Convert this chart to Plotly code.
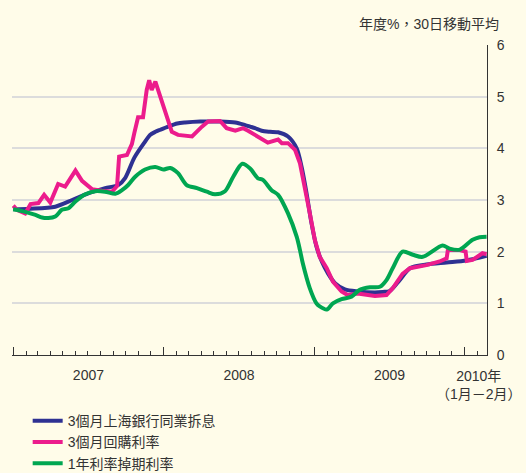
import plotly.graph_objects as go

# ---- data ----
shibor_dates = ["2007-01-01", "2007-02-11", "2007-04-13", "2007-05-24", "2007-07-02", "2007-08-12",
                "2007-09-13", "2007-09-30", "2007-10-22", "2007-11-17", "2007-11-29", "2007-12-12",
                "2007-12-24", "2008-01-12", "2008-02-03", "2008-02-22", "2008-03-30", "2008-04-18",
                "2008-05-17", "2008-06-23", "2008-07-17", "2008-07-29", "2008-08-10", "2008-08-26",
                "2008-09-15", "2008-10-05", "2008-10-29", "2008-11-19", "2008-12-01", "2008-12-13",
                "2008-12-25", "2009-01-06", "2009-01-19", "2009-02-03", "2009-02-20", "2009-03-16",
                "2009-04-16", "2009-05-28", "2009-06-16", "2009-07-03", "2009-07-27", "2009-08-21",
                "2009-09-30", "2009-11-18", "2010-01-05", "2010-02-23"]
shibor_values = [2.82, 2.83, 2.87, 3.00, 3.13, 3.23,
                 3.29, 3.43, 3.82, 4.13, 4.26, 4.32,
                 4.36, 4.42, 4.48, 4.50, 4.52, 4.52,
                 4.52, 4.50, 4.45, 4.42, 4.39, 4.34,
                 4.32, 4.31, 4.23, 4.00, 3.64, 3.13,
                 2.55, 2.10, 1.81, 1.58, 1.39, 1.27,
                 1.23, 1.21, 1.22, 1.24, 1.45, 1.68,
                 1.75, 1.79, 1.83, 1.92]

repo_dates = ["2007-01-01", "2007-01-10", "2007-01-30", "2007-02-12", "2007-03-03", "2007-03-17",
              "2007-04-01", "2007-04-20", "2007-05-07", "2007-06-01", "2007-06-17", "2007-07-11",
              "2007-08-04", "2007-08-29", "2007-09-10", "2007-09-15", "2007-10-04", "2007-10-16",
              "2007-10-22", "2007-10-31", "2007-11-12", "2007-11-21", "2007-11-27", "2007-12-03",
              "2007-12-12", "2007-12-24", "2008-01-02", "2008-01-12", "2008-01-21", "2008-02-05",
              "2008-03-10", "2008-04-03", "2008-04-18", "2008-05-17", "2008-06-02", "2008-06-23",
              "2008-07-12", "2008-07-24", "2008-08-10", "2008-09-10", "2008-10-05", "2008-10-14",
              "2008-10-29", "2008-11-15", "2008-11-27", "2008-12-09", "2008-12-21", "2009-01-02",
              "2009-01-14", "2009-01-31", "2009-02-15", "2009-03-08", "2009-03-23", "2009-04-16",
              "2009-05-11", "2009-05-28", "2009-06-25", "2009-07-10", "2009-08-03", "2009-08-21",
              "2009-09-30", "2009-11-01", "2009-11-18", "2009-11-21", "2009-12-20", "2010-01-03",
              "2010-01-06", "2010-01-20", "2010-02-13", "2010-02-23"]
repo_values = [2.89, 2.81, 2.74, 2.92, 2.94, 3.10,
               2.95, 3.31, 3.26, 3.57, 3.37, 3.21,
               3.18, 3.16, 3.27, 3.84, 3.87, 4.08,
               4.30, 4.60, 4.60, 5.13, 5.32, 5.13,
               5.29, 5.00, 4.81, 4.55, 4.32, 4.26,
               4.23, 4.42, 4.52, 4.53, 4.39, 4.34,
               4.39, 4.34, 4.26, 4.11, 4.17, 4.10,
               4.10, 3.97, 3.71, 3.26, 2.74, 2.23,
               1.90, 1.68, 1.42, 1.23, 1.16, 1.19,
               1.16, 1.14, 1.16, 1.29, 1.57, 1.68,
               1.74, 1.81, 1.87, 2.03, 2.03, 2.00,
               1.82, 1.84, 1.97, 1.95]

swap_dates = ["2007-01-01", "2007-01-30", "2007-02-24", "2007-03-12", "2007-03-27", "2007-04-13",
              "2007-04-29", "2007-05-15", "2007-06-01", "2007-06-25", "2007-07-19", "2007-08-12",
              "2007-09-06", "2007-09-22", "2007-10-07", "2007-10-24", "2007-11-17", "2007-12-12",
              "2007-12-31", "2008-01-17", "2008-02-05", "2008-02-26", "2008-03-22", "2008-04-15",
              "2008-05-05", "2008-05-29", "2008-06-18", "2008-07-10", "2008-07-29", "2008-08-17",
              "2008-08-29", "2008-09-19", "2008-10-05", "2008-10-29", "2008-11-19", "2008-11-27",
              "2008-12-04", "2008-12-21", "2009-01-06", "2009-01-14", "2009-01-31", "2009-02-15",
              "2009-03-08", "2009-04-01", "2009-04-21", "2009-05-16", "2009-06-09", "2009-06-25",
              "2009-07-10", "2009-08-03", "2009-08-28", "2009-09-21", "2009-11-08", "2009-11-25",
              "2009-12-20", "2010-01-20", "2010-02-06", "2010-02-23"]
swap_values = [2.82, 2.77, 2.71, 2.66, 2.65, 2.68,
               2.81, 2.84, 2.97, 3.11, 3.17, 3.16,
               3.12, 3.19, 3.29, 3.45, 3.59, 3.64,
               3.59, 3.62, 3.52, 3.29, 3.23, 3.16,
               3.11, 3.17, 3.45, 3.70, 3.61, 3.42,
               3.39, 3.19, 3.10, 2.74, 2.29, 2.03,
               1.77, 1.29, 1.00, 0.94, 0.88, 1.00,
               1.08, 1.13, 1.26, 1.31, 1.32, 1.45,
               1.68, 2.00, 1.94, 1.90, 2.12, 2.06,
               2.04, 2.23, 2.28, 2.29]

series_names = ["3個月上海銀行同業拆息", "3個月回購利率", "1年利率掉期利率"]
y_ticks = [0, 1, 2, 3, 4, 5, 6]
unit_title = "年度%，30日移動平均"
last_label = "2010年<br>（1月－2月）"

FONT = "Liberation Sans, Arial, Noto Sans CJK TC, sans-serif"
TXT = "#333333"
BG = "#FFFCE9"

fig = go.Figure()
fig.add_trace(go.Scatter(x=shibor_dates, y=shibor_values, mode="lines", name=series_names[0],
                         line=dict(color="#2E3192", width=4, shape="spline", smoothing=0.8)))
fig.add_trace(go.Scatter(x=repo_dates, y=repo_values, mode="lines", name=series_names[1],
                         line=dict(color="#EC1C8C", width=4)))
fig.add_trace(go.Scatter(x=swap_dates, y=swap_values, mode="lines", name=series_names[2],
                         line=dict(color="#00A651", width=4, shape="spline", smoothing=0.8)))

fig.update_layout(
    width=526, height=473,
    margin=dict(l=12, r=39, t=45, b=118, autoexpand=False),
    paper_bgcolor=BG, plot_bgcolor=BG,
    font=dict(family=FONT, size=14, color=TXT),
    showlegend=True,
    legend=dict(orientation="v", x=0.033, y=-0.162, xanchor="left", yanchor="top",
                bgcolor="rgba(0,0,0,0)", font=dict(size=14), tracegroupgap=0),
    xaxis=dict(
        type="date", range=["2006-12-29", "2010-02-24"],
        showline=True, linecolor=TXT, linewidth=1,
        showgrid=False, zeroline=False,
        tickmode="linear", tick0="2007-01-01", dtick="M12", tickformat="%Y",
        ticklabelmode="period", ticks="inside", ticklen=8, tickcolor=TXT, tickwidth=1,
        ticklabelstandoff=7,
        tickfont=dict(size=14, color=TXT),
        minor=dict(dtick="M1", tick0="2007-01-01", ticks="inside", ticklen=4,
                   tickcolor=TXT, tickwidth=1, showgrid=False),
        fixedrange=True,
    ),
    yaxis=dict(
        side="right", range=[0, 6], tickmode="array", tickvals=y_ticks,
        showline=True, linecolor=TXT, linewidth=1,
        showgrid=True, gridcolor="#DCDCDC", gridwidth=2, zeroline=False,
        ticks="", ticklabelstandoff=6, tickfont=dict(size=14, color=TXT),
        fixedrange=True,
    ),
)

fig.add_annotation(text=unit_title, xref="paper", yref="paper", x=1.03, y=1.068,
                   xanchor="right", yanchor="middle", showarrow=False,
                   font=dict(size=14, color=TXT))
fig.add_annotation(text=last_label, xref="paper", yref="paper", x=1.078, y=-0.036,
                   xanchor="right", yanchor="top", align="center", showarrow=False,
                   font=dict(size=14, color=TXT))

fig.write_html("out.html", config={"displayModeBar": False},
               post_script="document.body.style.margin='0';")
